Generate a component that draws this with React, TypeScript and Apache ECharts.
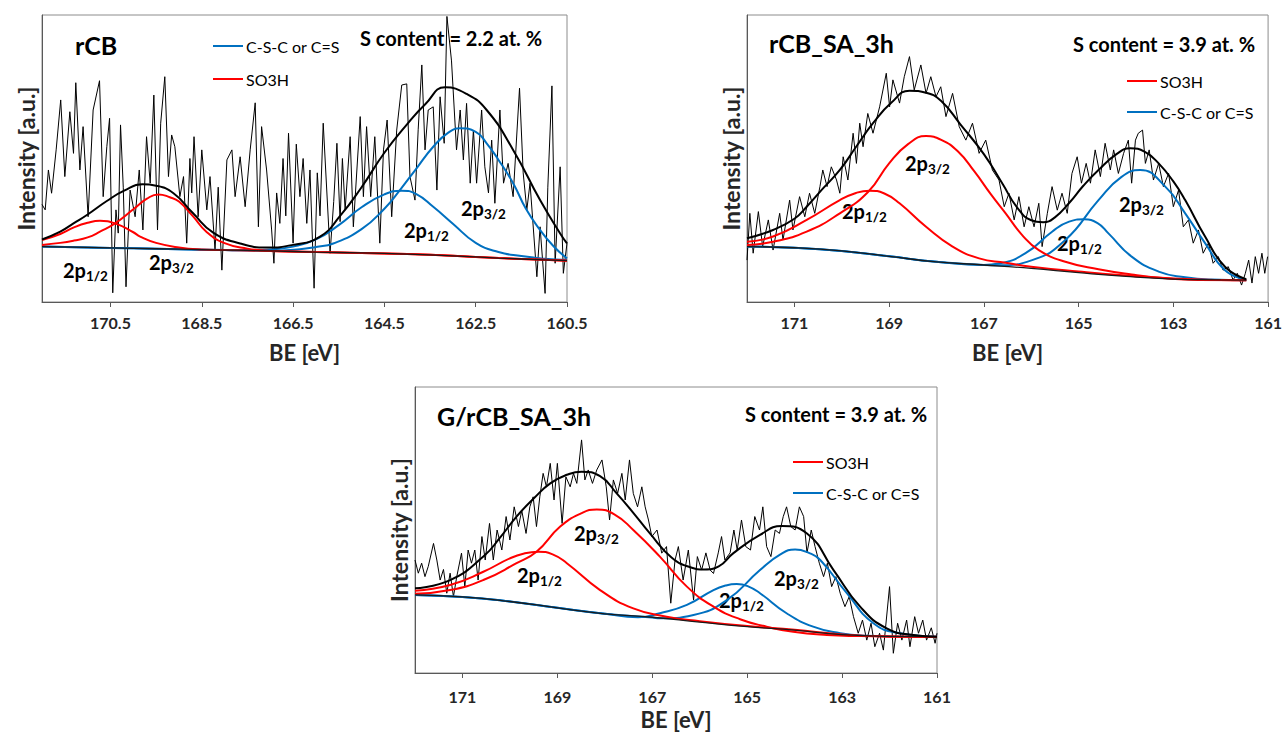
import React, { useEffect, useRef } from "react";
import * as echarts from "echarts";

const FONT = "Lato, 'Open Sans', sans-serif";
const RED = "#ff0000";
const BLUE = "#0070c0";
const BLACK = "#000000";

// ---------- tick labels ----------
const P1_TICKS = [160.5, 162.5, 164.5, 166.5, 168.5, 170.5];
const P23_TICKS = [161, 163, 165, 167, 169, 171];

// ---------- Panel 1 : rCB ----------
const P1_RAW_X = [172.0, 171.93, 171.86, 171.79, 171.69, 171.59, 171.5, 171.39, 171.31, 171.26, 171.17, 171.1, 170.99, 170.88, 170.74, 170.66, 170.58, 170.52, 170.45, 170.38, 170.33, 170.28, 170.22, 170.16, 170.07, 169.96, 169.87, 169.79, 169.71, 169.63, 169.55, 169.47, 169.4, 169.31, 169.23, 169.16, 169.09, 168.98, 168.9, 168.83, 168.76, 168.72, 168.67, 168.58, 168.5, 168.39, 168.32, 168.21, 168.14, 168.06, 167.95, 167.84, 167.77, 167.66, 167.55, 167.44, 167.33, 167.26, 167.19, 167.08, 166.97, 166.92, 166.86, 166.79, 166.72, 166.66, 166.6, 166.5, 166.43, 166.35, 166.28, 166.2, 166.13, 166.04, 165.97, 165.91, 165.84, 165.69, 165.61, 165.54, 165.47, 165.42, 165.36, 165.25, 165.18, 165.03, 164.96, 164.89, 164.8, 164.71, 164.6, 164.52, 164.44, 164.34, 164.23, 164.12, 164.01, 163.94, 163.83, 163.76, 163.68, 163.61, 163.54, 163.43, 163.35, 163.28, 163.19, 163.13, 163.03, 162.92, 162.84, 162.77, 162.7, 162.62, 162.55, 162.48, 162.37, 162.3, 162.22, 162.15, 162.08, 161.97, 161.89, 161.79, 161.68, 161.54, 161.46, 161.38, 161.31, 161.16, 161.09, 160.98, 160.92, 160.83, 160.76, 160.65, 160.58, 160.5];
const P1_RAW_Y = [34, 32.1, 46, 37.9, 53, 70.4, 43.7, 66.3, 51.8, 76.4, 46, 61.1, 29.7, 66.9, 77.1, 36.7, 54.1, 64, 3.2, 32.1, 24, 61.7, 40, 5.3, 39, 29.7, 46, 25.1, 57.6, 41.4, 72.1, 25.1, 62.3, 78.5, 43.7, 58.2, 54.1, 36.7, 43.7, 20.5, 50, 38, 57.6, 29.7, 53, 32.1, 43.7, 18.1, 40, 11.1, 49.5, 53, 36.7, 50.6, 33.2, 53, 69.4, 26.2, 61.1, 46, 25.1, 13.5, 38, 27.4, 50, 30, 58.8, 20.5, 55, 36.7, 50, 27.4, 46, 4.8, 45, 30, 62.3, 17, 35, 55.3, 28, 50, 32.1, 57.6, 26.2, 64.6, 36.7, 61.1, 36.7, 57.6, 20.5, 53, 63.4, 29.7, 59.9, 75.6, 76, 43.7, 35.5, 60, 82.6, 53, 66.9, 68, 39, 71.5, 55.3, 99.5, 84, 53, 66.9, 49.5, 69.2, 41.4, 59.9, 41.4, 66.9, 47.1, 38, 56.4, 34.4, 66.9, 41.4, 48.3, 36.7, 74.5, 45, 32.1, 41.4, 8.8, 26.2, 3, 40, 75.3, 13.5, 47.1, 10, 20.5];

const P1_BASE_X = [172, 171, 170, 169, 168, 167, 166, 165, 164, 163, 162, 161, 160.5];
const P1_BASE_Y = [19.3, 19.0, 18.7, 18.4, 18.1, 17.8, 17.4, 17.1, 16.7, 16.1, 15.3, 14.7, 14.4];

const P1_SO3H_A_X = [172, 171.6, 171.3, 171.0, 170.73, 170.4, 170.0, 169.85, 169.5, 169.0, 168.5, 168, 167, 166, 165, 164, 163, 162, 161, 160.5];
const P1_SO3H_A_Y = [21.6, 23.7, 26.0, 27.6, 28.3, 27.4, 24.3, 22.8, 20.6, 19.0, 18.3, 18.1, 17.8, 17.4, 17.1, 16.7, 16.1, 15.3, 14.7, 14.4];

const P1_SO3H_B_X = [172, 171.6, 171.3, 171.0, 170.73, 170.4, 170.0, 169.7, 169.45, 169.2, 169.0, 168.7, 168.4, 168.0, 167.5, 167, 166, 165, 164, 163, 162, 161, 160.5];
const P1_SO3H_B_Y = [19.9, 20.6, 21.4, 22.5, 24.5, 27.4, 32.3, 36, 37.5, 36.5, 35, 30, 24.5, 20.5, 18.6, 17.8, 17.4, 17.1, 16.7, 16.1, 15.3, 14.7, 14.4];

const P1_CSC_A_X = [172, 171, 170, 169, 168, 167.5, 167, 166.5, 166, 165.5, 165, 164.5, 164.12, 163.8, 163.43, 163, 162.5, 162, 161.5, 161, 160.5];
const P1_CSC_A_Y = [19.3, 19.0, 18.7, 18.4, 18.1, 18.0, 18.3, 19.3, 21.8, 26.8, 33.0, 37.5, 38.8, 37.6, 33.2, 27.3, 20.6, 17.4, 16.0, 15.1, 14.6];

const P1_CSC_B_X = [172, 171, 170, 169, 168, 167, 166.35, 166, 165.62, 165, 164.5, 164.16, 163.8, 163.43, 163.1, 162.84, 162.5, 162.26, 162, 161.68, 161.4, 161.09, 160.8, 160.5];
const P1_CSC_B_Y = [19.3, 19.0, 18.7, 18.4, 18.1, 17.9, 18.4, 19.2, 20.4, 25.4, 32.5, 39, 46.5, 54.1, 59, 60.5, 59.3, 55.3, 49.5, 41.4, 32.5, 25.1, 19.5, 15.2];

const P1_ENV_X = [172, 171.6, 171.31, 171.0, 170.58, 170.2, 169.8, 169.5, 169.12, 168.69, 168.25, 167.66, 167.08, 166.5, 165.91, 165.47, 165.0, 164.5, 164.0, 163.6, 163.17, 162.7, 162.26, 161.68, 161.09, 160.65, 160.5];
const P1_ENV_Y = [21.8, 24.5, 27.4, 30.5, 35.2, 38.8, 41.0, 40.5, 37.9, 30.9, 24.2, 20.4, 19.0, 19.9, 22.8, 30, 40, 52, 62, 69, 74.8, 72.5, 66.9, 53, 35.5, 23.9, 20.4];

// ---------- Panel 2 : rCB_SA_3h ----------
const P2_RAW_X = [172.0, 171.94, 171.87, 171.76, 171.67, 171.55, 171.45, 171.31, 171.24, 171.1, 171.03, 170.89, 170.78, 170.68, 170.57, 170.46, 170.4, 170.31, 170.22, 170.11, 170.04, 169.97, 169.87, 169.76, 169.69, 169.62, 169.55, 169.45, 169.34, 169.2, 169.06, 168.99, 168.92, 168.78, 168.68, 168.57, 168.47, 168.33, 168.22, 168.12, 168.01, 167.91, 167.8, 167.66, 167.52, 167.38, 167.24, 167.1, 166.96, 166.82, 166.68, 166.57, 166.47, 166.36, 166.26, 166.15, 166.05, 165.94, 165.84, 165.77, 165.66, 165.56, 165.45, 165.35, 165.24, 165.14, 165.03, 164.94, 164.84, 164.75, 164.65, 164.54, 164.44, 164.33, 164.26, 164.16, 164.05, 163.95, 163.88, 163.8, 163.74, 163.65, 163.59, 163.51, 163.42, 163.31, 163.21, 163.1, 163.0, 162.89, 162.79, 162.68, 162.58, 162.47, 162.37, 162.26, 162.16, 162.05, 161.95, 161.84, 161.74, 161.65, 161.56, 161.48, 161.41, 161.34, 161.27, 161.2, 161.13, 161.07, 161.01];
const P2_RAW_Y = [14.6, 30.9, 17, 31.5, 19.3, 28.6, 18.1, 30.9, 21.6, 35.5, 25.1, 36.7, 29.7, 37.9, 30.9, 40.2, 46, 40.2, 47.1, 42.5, 37.9, 50.6, 42.5, 58.8, 48.3, 62.3, 54.1, 65.7, 58.8, 68, 79.7, 68, 77.4, 69.3, 78.5, 85.5, 73.9, 82.6, 72.7, 78.5, 71.5, 75, 64.6, 72.7, 61.1, 56.4, 62.3, 51.8, 56.4, 46, 42.5, 33.2, 37.9, 28.6, 36.7, 26.2, 33.2, 26.2, 34.4, 19.3, 30.9, 40.2, 32, 37.9, 30.9, 44.8, 50.6, 41.4, 48.3, 41.4, 53, 43.7, 55.3, 46, 53, 44.8, 51.8, 56.4, 41.4, 56.4, 58.8, 59.9, 48.3, 53, 42.5, 48.3, 40.2, 44.8, 33.2, 39, 26.2, 28.6, 20.5, 25.1, 17, 20.5, 13.5, 15.8, 11.1, 12.3, 7.7, 10, 5.9, 10, 14.6, 6.6, 15.8, 10, 17, 10, 15.8];

const P2_BASE_X = [172, 171, 170, 169, 168, 167, 166, 165, 164, 163, 162, 161.46];
const P2_BASE_Y = [19.3, 18.9, 17.8, 15.9, 14.0, 12.9, 11.7, 10.2, 8.9, 8.0, 7.7, 7.6];

const P2_SO3H_A_X = [172, 171.45, 170.74, 170.04, 169.7, 169.41, 169.1, 168.78, 168.22, 167.66, 167.1, 166.54, 166, 165, 164, 163, 162, 161.46];
const P2_SO3H_A_Y = [21.0, 22.8, 28.6, 35.5, 38, 38.8, 37.8, 34.4, 26.2, 19.3, 15.2, 13.7, 12.3, 10.6, 9.2, 8.2, 7.7, 7.6];

const P2_SO3H_B_X = [172, 171.45, 170.74, 170.04, 169.44, 169.0, 168.6, 168.22, 167.9, 167.55, 167.2, 166.85, 166.54, 166.2, 165.84, 165.28, 164.58, 163.88, 163.17, 162.47, 161.46];
const P2_SO3H_B_Y = [19.9, 21.0, 24.5, 30.9, 38.4, 48.3, 55, 57.8, 56.5, 52.5, 45.5, 37.5, 30.9, 23.5, 18.1, 14.0, 11.4, 9.6, 8.3, 7.7, 7.6];

const P2_CSC_A_X = [172, 171, 170, 169, 168, 167, 166.68, 166.12, 165.56, 165.2, 164.89, 164.6, 164.37, 163.88, 163.31, 162.75, 162.2, 161.46];
const P2_CSC_A_Y = [19.3, 18.9, 17.8, 15.9, 14.0, 12.9, 13.4, 17, 24.5, 28, 28.8, 27.5, 23.9, 15.8, 10.6, 8.6, 7.8, 7.6];

const P2_CSC_B_X = [172, 171, 170, 169, 168, 167, 166.68, 165.98, 165.28, 164.58, 164.1, 163.7, 163.17, 162.75, 162.33, 161.91, 161.46];
const P2_CSC_B_Y = [19.3, 18.9, 17.8, 15.9, 14.0, 12.9, 12.8, 14.6, 21.6, 35.5, 43.5, 46, 40.2, 30.9, 20.5, 11.1, 7.7];

const P2_ENV_X = [172, 171.45, 171.0, 170.74, 170.4, 170.04, 169.7, 169.34, 168.95, 168.57, 168.2, 167.9, 167.5, 167.0, 166.6, 166.3, 166.0, 165.75, 165.5, 165.2, 164.9, 164.58, 164.2, 163.91, 163.6, 163.31, 163.0, 162.75, 162.33, 161.91, 161.46];
const P2_ENV_Y = [22.2, 25.1, 29, 33.2, 39.5, 46, 54, 62.3, 69.5, 73.6, 72.8, 70, 62, 51.5, 41, 33, 28.5, 27.8, 29.5, 34.5, 40.5, 46, 51.5, 53.6, 52.3, 48.3, 42, 35.5, 22.8, 12.3, 7.9];

// ---------- Panel 3 : G/rCB_SA_3h ----------
const P3_RAW_X = [172.0, 171.93, 171.86, 171.79, 171.72, 171.61, 171.54, 171.47, 171.4, 171.33, 171.26, 171.19, 171.12, 171.02, 170.95, 170.88, 170.81, 170.74, 170.67, 170.59, 170.52, 170.43, 170.35, 170.27, 170.17, 170.08, 170.0, 169.91, 169.82, 169.75, 169.66, 169.58, 169.51, 169.44, 169.37, 169.3, 169.23, 169.15, 169.07, 169.0, 168.9, 168.82, 168.73, 168.66, 168.59, 168.49, 168.42, 168.35, 168.26, 168.17, 168.06, 167.97, 167.9, 167.82, 167.73, 167.64, 167.57, 167.48, 167.4, 167.31, 167.22, 167.15, 167.08, 167.01, 166.9, 166.8, 166.7, 166.61, 166.52, 166.45, 166.35, 166.24, 166.13, 166.05, 165.96, 165.87, 165.78, 165.71, 165.61, 165.54, 165.47, 165.36, 165.28, 165.21, 165.12, 165.03, 164.93, 164.84, 164.74, 164.67, 164.59, 164.5, 164.41, 164.32, 164.24, 164.17, 164.08, 163.99, 163.9, 163.81, 163.74, 163.65, 163.57, 163.48, 163.39, 163.31, 163.22, 163.13, 163.04, 162.94, 162.85, 162.76, 162.66, 162.57, 162.48, 162.39, 162.31, 162.21, 162.13, 162.0, 161.92, 161.83, 161.74, 161.64, 161.57, 161.47, 161.39, 161.3, 161.22, 161.12, 161.04, 161.0];
const P3_RAW_Y = [39.5, 34.9, 38.4, 33.7, 37.3, 45.3, 39.5, 32.5, 36.2, 27.9, 34.9, 26.7, 33.7, 41.9, 30.2, 43, 38.4, 43, 32.5, 47.7, 39.5, 52.3, 39.5, 50, 43, 54.7, 46.5, 58.1, 51.2, 56.8, 48.8, 58.1, 61.6, 51.2, 61.6, 69.8, 65.1, 73.3, 60.5, 73.3, 52.3, 68.6, 65.1, 69.8, 66.3, 81.5, 67.5, 71, 66.3, 71, 74.5, 65.1, 53.5, 67.5, 62.8, 69.8, 60.5, 74.5, 62.8, 58.1, 65.1, 58.1, 53.5, 47.7, 50, 41.9, 44.2, 24.4, 39.5, 44.2, 32.5, 43, 25.5, 40.7, 36, 42, 36, 34.8, 42, 47.7, 39.5, 42, 50, 43, 53.5, 44.2, 43, 54.7, 50, 58.1, 44.2, 40.7, 50, 48.8, 54.7, 58.1, 51.2, 50, 58.1, 54.7, 42, 50, 44.2, 38.4, 33.7, 38.4, 30.2, 33.7, 27.9, 23.2, 26.7, 19.7, 13.9, 18.5, 11.5, 17.4, 9.2, 13.9, 8, 30.2, 6.9, 17.4, 11.5, 18.5, 9.2, 19.7, 13.9, 18.5, 11.5, 15.8, 10.4, 13.9];

const P3_BASE_X = [172, 171, 170, 169, 168, 167, 166, 165, 164, 163, 162, 161];
const P3_BASE_Y = [27.3, 26.6, 25.0, 22.8, 20.7, 19.5, 17.8, 16.2, 15.0, 13.4, 12.8, 12.7];

const P3_SO3H_A_X = [172, 171.26, 170.56, 170.0, 169.7, 169.4, 169.1, 168.8, 168.1, 167.4, 166.7, 166, 165, 164, 163, 162, 161];
const P3_SO3H_A_Y = [28.8, 30.8, 35.4, 40.1, 41.8, 42.4, 41.5, 38.4, 29, 22.6, 19.7, 18.1, 16.4, 15.1, 13.5, 12.8, 12.7];

const P3_SO3H_B_X = [172, 171.26, 170.56, 169.86, 169.44, 168.94, 168.5, 168.17, 167.8, 167.4, 166.84, 166.27, 165.71, 165.15, 164.59, 164.03, 163.32, 162.62, 161.8, 161];
const P3_SO3H_B_Y = [27.7, 29, 32.5, 38.4, 42.4, 51.2, 55.8, 57.2, 55.5, 50, 40.7, 30.2, 23.2, 18.8, 16.2, 14.4, 13.3, 12.9, 12.7, 12.6];

const P3_CSC_A_X = [172, 171, 170, 169, 168, 167.3, 166.84, 166.27, 165.71, 165.45, 165.22, 164.98, 164.73, 164.17, 163.61, 163.04, 162.5, 162, 161];
const P3_CSC_A_Y = [27.3, 26.6, 25.0, 22.8, 20.7, 19.5, 20.9, 23.8, 29, 30.6, 31.1, 30.3, 27.9, 20.9, 16.2, 13.9, 13.0, 12.8, 12.7];

const P3_CSC_B_X = [172, 171, 170, 169, 168, 167, 166.84, 166.13, 165.43, 164.73, 164.3, 163.99, 163.7, 163.46, 162.9, 162.34, 161.78, 161];
const P3_CSC_B_Y = [27.3, 26.6, 25.0, 22.8, 20.7, 19.4, 19.1, 20.3, 25.5, 36, 41.5, 43.2, 42, 39.5, 27.9, 17.4, 13.9, 12.7];

const P3_ENV_X = [172, 171.26, 170.56, 170.2, 169.86, 169.5, 169.15, 168.8, 168.49, 168.1, 167.75, 167.4, 167.05, 166.6, 166.2, 165.9, 165.6, 165.29, 164.73, 164.27, 163.74, 163.18, 162.62, 162.06, 161.5, 161];
const P3_ENV_Y = [29.6, 32.5, 40.7, 47.5, 54.7, 61, 66.3, 69.3, 70.4, 68.8, 62.8, 56, 48.8, 40.5, 37.0, 36.2, 37.3, 41.9, 48.3, 51.4, 48.8, 36, 23.2, 15.6, 13.3, 12.7];

// ---------- helpers ----------
const zip = (xs: number[], ys: number[]) => xs.map((x, i) => [x, ys[i]]);

const line = (idx: number, name: string, xs: number[], ys: number[], color: string, width: number, smooth: boolean | number, z: number) => ({
  type: "line",
  name,
  xAxisIndex: idx,
  yAxisIndex: idx,
  data: zip(xs, ys),
  showSymbol: false,
  symbol: "none",
  smooth,
  silent: true,
  z,
  lineStyle: { color, width },
  itemStyle: { color },
});

type XY = [number[], number[]];
const panelSeries = (idx: number, raw: XY, base: XY, sA: XY, sB: XY, cA: XY, cB: XY, env: XY) => [
  line(idx, "Raw", raw[0], raw[1], BLACK, 1, false, 2),
  line(idx, "C-S-C or C=S", cA[0], cA[1], BLUE, 2, 0.5, 3),
  line(idx, "C-S-C or C=S", cB[0], cB[1], BLUE, 2, 0.5, 3),
  line(idx, "SO3H", sA[0], sA[1], RED, 2, 0.5, 4),
  line(idx, "SO3H", sB[0], sB[1], RED, 2, 0.5, 4),
  line(idx, "Background", base[0], base[1], "#1a1a1a", 1.3, 0.5, 5),
  line(idx, "Envelope", env[0], env[1], BLACK, 2, 0.5, 6),
];

const xAxisFor = (idx: number, min: number, ticks: number[], margin: number, nameGap: number) => ({
  type: "value",
  gridIndex: idx,
  inverse: true,
  min,
  max: 172,
  name: "BE [eV]",
  nameLocation: "middle",
  nameGap,
  nameTextStyle: { fontFamily: FONT, fontSize: 22, fontWeight: "bold", color: "#262626" },
  axisLine: { show: true, onZero: false, lineStyle: { color: "#595959", width: 1 } },
  axisTick: { show: true, length: 5, customValues: ticks, lineStyle: { color: "#595959" } },
  axisLabel: { customValues: ticks, margin, fontFamily: FONT, fontSize: 16, fontWeight: "bold", color: "#262626" },
  splitLine: { show: false },
});

const yAxisFor = (idx: number) => ({
  type: "value",
  gridIndex: idx,
  min: 0,
  max: 100,
  name: "Intensity [a.u.]",
  nameLocation: "middle",
  nameGap: 5,
  nameTextStyle: { fontFamily: FONT, fontSize: 23, fontWeight: "bold", color: "#262626" },
  axisLine: { show: true, onZero: false, lineStyle: { color: "#595959", width: 1 } },
  axisTick: { show: false },
  axisLabel: { show: false },
  splitLine: { show: false },
});

const txt = (x: number, y: number, text: string, size: number, weight: string = "bold") => ({
  type: "text",
  x,
  y,
  silent: true,
  style: { text, fill: "#000", fontFamily: FONT, fontSize: size, fontWeight: weight, align: "left", verticalAlign: "middle" },
});

const peakLabel = (x: number, y: number, sub: string) => ({
  type: "text",
  x,
  y,
  silent: true,
  style: {
    text: `{b|2p}{s|${sub}}`,
    align: "left",
    verticalAlign: "middle",
    rich: {
      b: { fontFamily: FONT, fontSize: 20, fontWeight: "bold", fill: "#000", lineHeight: 26, verticalAlign: "middle" },
      s: { fontFamily: FONT, fontSize: 13.5, fontWeight: "bold", fill: "#000", lineHeight: 13, verticalAlign: "bottom" },
    },
  },
});

const legendLine = (x: number, y: number, color: string, label: string) => [
  { type: "line", silent: true, shape: { x1: x, y1: y, x2: x + 30, y2: y }, style: { stroke: color, lineWidth: 2 } },
  txt(x + 33, y, label, 16, "normal"),
];

export default function App() {
  const ref = useRef<HTMLDivElement>(null);

  useEffect(() => {
    if (!ref.current) return;
    const chart = echarts.init(ref.current, null, { renderer: "svg" });

    const grid = [
      { left: 42, top: 15, width: 525, height: 287 },
      { left: 747, top: 15, width: 523, height: 287 },
      { left: 415, top: 387, width: 522, height: 286 },
    ].map((g) => ({ ...g, show: true, borderColor: "#8c8c8c", borderWidth: 1, backgroundColor: "transparent" }));

    const series = [
      ...panelSeries(0, [P1_RAW_X, P1_RAW_Y], [P1_BASE_X, P1_BASE_Y], [P1_SO3H_A_X, P1_SO3H_A_Y], [P1_SO3H_B_X, P1_SO3H_B_Y], [P1_CSC_A_X, P1_CSC_A_Y], [P1_CSC_B_X, P1_CSC_B_Y], [P1_ENV_X, P1_ENV_Y]),
      ...panelSeries(1, [P2_RAW_X, P2_RAW_Y], [P2_BASE_X, P2_BASE_Y], [P2_SO3H_A_X, P2_SO3H_A_Y], [P2_SO3H_B_X, P2_SO3H_B_Y], [P2_CSC_A_X, P2_CSC_A_Y], [P2_CSC_B_X, P2_CSC_B_Y], [P2_ENV_X, P2_ENV_Y]),
      ...panelSeries(2, [P3_RAW_X, P3_RAW_Y], [P3_BASE_X, P3_BASE_Y], [P3_SO3H_A_X, P3_SO3H_A_Y], [P3_SO3H_B_X, P3_SO3H_B_Y], [P3_CSC_A_X, P3_CSC_A_Y], [P3_CSC_B_X, P3_CSC_B_Y], [P3_ENV_X, P3_ENV_Y]),
    ];

    const graphic = [
      // panel 1
      txt(75, 45, "rCB", 25),
      txt(360, 38, "S content = 2.2 at. %", 20),
      ...legendLine(213, 46, BLUE, "C-S-C or C=S"),
      ...legendLine(213, 79, RED, "SO3H"),
      peakLabel(63, 270, "1/2"),
      peakLabel(149, 262, "3/2"),
      peakLabel(404, 230, "1/2"),
      peakLabel(461, 208, "3/2"),
      // panel 2
      txt(769, 43, "rCB_SA_3h", 25),
      txt(1073, 44, "S content = 3.9 at. %", 20),
      ...legendLine(1127, 81, RED, "SO3H"),
      ...legendLine(1127, 112, BLUE, "C-S-C or C=S"),
      peakLabel(905, 163, "3/2"),
      peakLabel(842, 211, "1/2"),
      peakLabel(1057, 243, "1/2"),
      peakLabel(1119, 204, "3/2"),
      // panel 3
      txt(437, 416, "G/rCB_SA_3h", 25),
      txt(745, 414, "S content = 3.9 at. %", 20),
      ...legendLine(793, 462, RED, "SO3H"),
      ...legendLine(793, 493, BLUE, "C-S-C or C=S"),
      peakLabel(574, 533, "3/2"),
      peakLabel(517, 575, "1/2"),
      peakLabel(719, 600, "1/2"),
      peakLabel(774, 578, "3/2"),
    ];

    chart.setOption({
      animation: false,
      backgroundColor: "#ffffff",
      grid,
      xAxis: [xAxisFor(0, 160.5, P1_TICKS, 12, 39), xAxisFor(1, 161, P23_TICKS, 12, 39), xAxisFor(2, 161, P23_TICKS, 15, 35)],
      yAxis: [yAxisFor(0), yAxisFor(1), yAxisFor(2)],
      series,
      graphic,
    });

    return () => chart.dispose();
  }, []);

  return <div ref={ref} style={{ position: "fixed", left: 0, top: 0, width: 1285, height: 738 }} />;
}
